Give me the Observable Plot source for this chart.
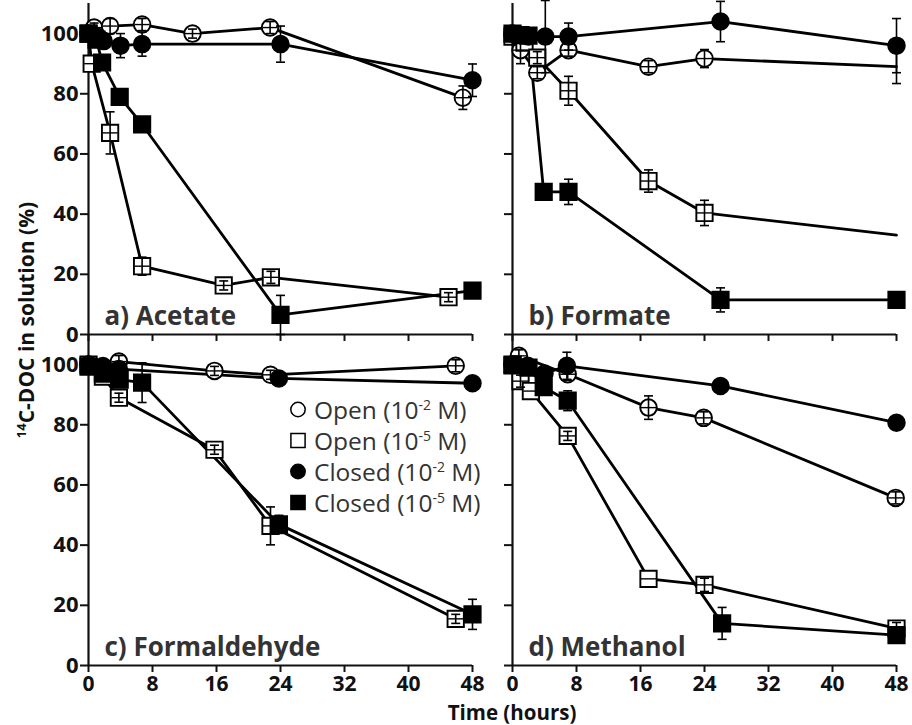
<!DOCTYPE html>
<html><head><meta charset="utf-8">
<script src="https://cdn.jsdelivr.net/npm/d3@7"></script>
<script src="https://cdn.jsdelivr.net/npm/@observablehq/plot@0.6"></script>
<style>
html,body{margin:0;padding:0;background:#fff;}
#wrap{position:relative;width:912px;height:725px;overflow:hidden;}
#overlay{position:absolute;left:0;top:0;pointer-events:none;}
</style></head><body><div id="wrap"></div>
<script>
// Panels
const panelNames = ["a) Acetate", "b) Formate", "c) Formaldehyde", "d) Methanol"];
const panelCols = [0, 1, 0, 1];
const panelRows = [0, 0, 1, 1];

// Series (legend)
const seriesLabels = ["Open", "Open", "Closed", "Closed"];
const seriesExps = ["-2", "-5", "-2", "-5"];
const seriesSymbols = ["circle", "square", "circle", "square"];
const seriesFills = ["white", "white", "black", "black"];

// Axes
const xTicks = [0, 8, 16, 24, 32, 40, 48];
const yTicks = [0, 20, 40, 60, 80, 100];
const yLabelMain = "C-DOC in solution (%)";
const yLabelSup = "14";
const xLabel = "Time (hours)";

// [time (h), 14C-DOC (%), error, marker shown]
const acetateOpen2   = [[0,100,0],[0.7,102,1.5],[2.7,102.5,2.5],[6.7,103,2],[13,100,1.5],[22.7,102,2],[46.8,78.7,3.9]];
const acetateOpen5   = [[0,100,0],[0.4,90,0],[2.7,67,7],[6.7,22.7,3],[16.9,16.3,1.5],[22.8,19,2],[45,12.4,1.5]];
const acetateClosed2 = [[0,100,0],[1,99,0],[1.9,97.5,0],[4,96,4],[6.7,96.5,4],[24,96.5,6],[48,84.5,5.4]];
const acetateClosed5 = [[0,100,0],[1,98,0],[1.7,90.4,0],[3.9,79,0],[6.7,69.8,0],[24,6.5,6.5],[48,14.6,1]];

const formateOpen2   = [[0,99.5,0],[1,94.5,4.5],[3.1,87,2],[7,94.5,2],[17,89,2],[24,91.7,3],[48,89,5.6,false]];
const formateOpen5   = [[0,99,0],[1.5,97,0],[3.1,92,2],[7,81,4.8],[17,51,3.7],[24,40.4,4.2],[48,33,0,false]];
const formateClosed2 = [[0,100,0],[1,99.5,0],[2,99,0],[4.1,99,12],[7,99,4.5],[26,104,6.7],[48,96,9]];
const formateClosed5 = [[0,100,0],[1,99.5,0],[2,99.3,0],[3.9,47.4,2],[7,47.4,4.2],[26,11.5,4],[48,11.5,2]];

const formaldehydeOpen2   = [[0,100,0],[3.8,101,2],[15.75,97.9,1.5],[22.75,96.6,1.5],[45.9,99.6,2]];
const formaldehydeOpen5   = [[0,100,0],[1.8,96,0],[3.8,89,1.5],[15.75,71.7,1.5],[22.75,46.4,6.3],[45.9,15.5,1.5]];
const formaldehydeClosed2 = [[0,100,0],[1.8,99.5,0],[3.8,98.5,0],[23.8,95.4,0],[48,93.8,0]];
const formaldehydeClosed5 = [[0,99.3,0],[1.8,97,0],[3.9,95,0],[6.7,94,6.6],[23.8,46.9,3],[48,17,5]];

const methanolOpen2   = [[0,100,0],[0.8,102.9,2],[6.9,96.8,2],[17,85.7,3.9],[23.9,82.3,2],[47.9,55.7,2]];
const methanolOpen5   = [[0,100,0],[1,94.5,2],[2.3,91.2,0],[6.9,76.3,1.5],[17,28.8,0],[24,26.8,2.2],[48,12.3,2]];
const methanolClosed2 = [[0,100,0],[1.9,99.6,0],[4,97,0],[6.8,99.6,4.5],[26,92.9,0],[48,80.7,0]];
const methanolClosed5 = [[0,99.7,0],[2,99,0],[3.9,92.5,0],[6.9,88,3.3],[26.2,14,5.3],[48,10.1,1.5]];

const panelSeries = [
  [acetateOpen2, acetateOpen5, acetateClosed2, acetateClosed5],
  [formateOpen2, formateOpen5, formateClosed2, formateClosed5],
  [formaldehydeOpen2, formaldehydeOpen5, formaldehydeClosed2, formaldehydeClosed5],
  [methanolOpen2, methanolOpen5, methanolClosed2, methanolClosed5]
];

const rows = [];
panelSeries.forEach((list, p) => list.forEach((pts, s) => pts.forEach(([t, v, e, m]) =>
  rows.push({panel: p, col: panelCols[p], row: panelRows[p], series: s, t, v, e, marker: m !== false}))));
const errs = rows.filter(d => d.e > 0);
const labels = panelNames.map((name, i) => ({name, col: panelCols[i], row: panelRows[i]}));

const hline = {draw(ctx, size) { const r = Math.sqrt(size / Math.PI); ctx.moveTo(-r, 0); ctx.lineTo(r, 0); }};
const F = {fx: "col", fy: "row"};

const chart = Plot.plot({
  width: 912, height: 725,
  marginTop: 2, marginBottom: 60, marginLeft: 88, marginRight: 15,
  style: {fontFamily: "'Open Sans', sans-serif", fontSize: "22px", fontWeight: "bold", color: "#111", background: "white"},
  fx: {axis: null, paddingInner: 0.0942, paddingOuter: 0},
  fy: {axis: null, paddingInner: 0, paddingOuter: 0},
  x: {domain: [0, 48]},
  y: {domain: [0, 110]},
  marks: [
    Plot.axisY({ticks: yTicks, facetAnchor: "left", tickSize: 8, tickPadding: 2, strokeWidth: 2, label: null}),
    Plot.axisY({ticks: yTicks, facetAnchor: "right", tickSize: 8, tickFormat: () => "", strokeWidth: 2, label: null}),
    Plot.axisX({ticks: xTicks, facetAnchor: "bottom", tickSize: 7, tickPadding: 4, strokeWidth: 2, fontSize: 21, label: null}),
    Plot.axisX({ticks: xTicks, facetAnchor: "top", tickSize: 7, tickFormat: () => "", strokeWidth: 2, label: null}),
    Plot.ruleX([0], {strokeWidth: 2.2}),
    Plot.ruleY([0], {strokeWidth: 2.2}),
    Plot.text(labels, {...F, text: "name", frameAnchor: "bottom-left", dx: 16, dy: -10, textAnchor: "start", lineAnchor: "bottom", fontSize: 26, fontWeight: 700, fill: "#333"}),
    Plot.line(rows, {...F, x: "t", y: "v", z: "series", stroke: "black", strokeWidth: 2.8}),
    ...seriesSymbols.map((sym, s) => Plot.dot(rows.filter(d => d.series === s && d.marker), {
      ...F, x: "t", y: "v", symbol: sym, r: sym === "circle" ? 8.3 : 9.2, fill: seriesFills[s], stroke: "black", strokeWidth: 1.9
    })),
    Plot.ruleX(errs, {...F, x: "t", y1: d => d.v - d.e, y2: d => d.v + d.e, stroke: "black", strokeWidth: 1.6}),
    Plot.dot(errs, {...F, x: "t", y: d => d.v + d.e, symbol: hline, r: 4.5, stroke: "black", strokeWidth: 1.6, fill: "none"}),
    Plot.dot(errs, {...F, x: "t", y: d => d.v - d.e, symbol: hline, r: 4.5, stroke: "black", strokeWidth: 1.6, fill: "none"}),
    Plot.dot(rows.filter(d => d.series < 2 && d.marker), {...F, x: "t", y: "v", symbol: hline, r: 7.5, stroke: "black", strokeWidth: 1.4, fill: "none"})
  ]
});

const wrap = document.getElementById("wrap");
wrap.appendChild(chart);

// Overlay: axis titles and legend
const ov = d3.select(wrap).append("svg").attr("id", "overlay").attr("width", 912).attr("height", 725)
  .style("font-family", "'Open Sans', sans-serif");

const yl = ov.append("text").attr("transform", "translate(34,320) rotate(-90)")
  .attr("text-anchor", "middle").attr("font-weight", "bold").attr("font-size", 21).attr("fill", "#111");
yl.append("tspan").attr("font-size", 13).attr("dy", -8).text(yLabelSup);
yl.append("tspan").attr("dy", 8).text(yLabelMain);

ov.append("text").attr("x", 512).attr("y", 720).attr("text-anchor", "middle")
  .attr("font-weight", "bold").attr("font-size", 20.5).attr("fill", "#111").text(xLabel);

const legendSym = {circle: d3.symbolCircle, square: d3.symbolSquare};
seriesLabels.forEach((lab, s) => {
  const by = 418.5 + s * 31;
  const r = seriesSymbols[s] === "circle" ? 7.2 : 8;
  ov.append("path").attr("transform", `translate(298,${by - 9})`)
    .attr("d", d3.symbol(legendSym[seriesSymbols[s]], Math.PI * r * r)())
    .attr("fill", seriesFills[s]).attr("stroke", "black").attr("stroke-width", 1.5);
  const t = ov.append("text").attr("x", 314).attr("y", by).attr("font-size", 24.5).attr("fill", "#333");
  t.append("tspan").text(`${lab} (10`);
  t.append("tspan").attr("font-size", 14).attr("dy", -8.5).text(seriesExps[s]);
  t.append("tspan").attr("dy", 8.5).text(" M)");
});
</script></body></html>
